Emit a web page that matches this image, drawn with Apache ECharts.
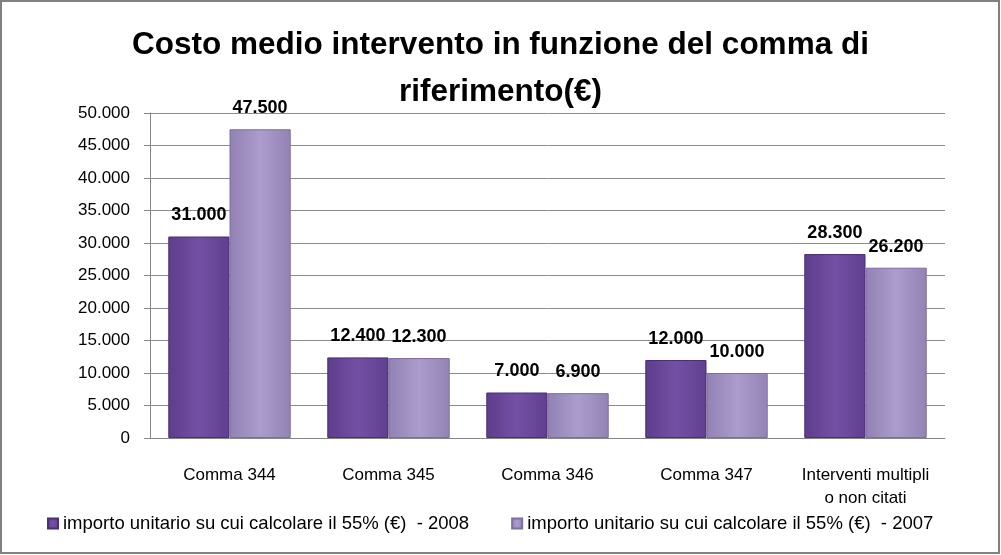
<!DOCTYPE html>
<html><head><meta charset="utf-8">
<script src="https://cdn.jsdelivr.net/npm/echarts@6/dist/echarts.min.js"></script>
<style>html,body{margin:0;padding:0;background:#fff}#c{width:1001px;height:555px}</style>
</head><body><div id="c"></div>
<script>
const categories = ['Comma 344','Comma 345','Comma 346','Comma 347','Interventi multipli\no non citati'];
const seriesNames = ['importo unitario su cui calcolare il 55% (€)  - 2008','importo unitario su cui calcolare il 55% (€)  - 2007'];
const values2008 = [31000, 12400, 7000, 12000, 28300];
const values2007 = [47500, 12300, 6900, 10000, 26200];
const yTicks = [0, 5000, 10000, 15000, 20000, 25000, 30000, 35000, 40000, 45000, 50000];

const FONT = '"Liberation Sans",sans-serif';
function fmt(v){ return String(v).replace(/\B(?=(\d{3})+(?!\d))/g,'.'); }
function grad(c1,c2,c3){ return new echarts.graphic.LinearGradient(0,0,1,0,[{offset:0,color:c1},{offset:0.5,color:c2},{offset:1,color:c3}]); }

const chart = echarts.init(document.getElementById('c'), null, {renderer:'canvas'});
chart.setOption({
  backgroundColor:'#ffffff',
  animation:false,
  textStyle:{fontFamily:FONT},
  title:{
    text:'Costo medio intervento in funzione del comma di\nriferimento(€)',
    left:'center', top:17,
    textStyle:{fontFamily:FONT,fontSize:31.5,fontWeight:'bold',color:'#000',lineHeight:47}
  },
  graphic:[{type:'rect',shape:{x:1,y:1,width:998,height:552},style:{fill:'none',stroke:'#808080',lineWidth:2},silent:true}],
  legend:{
    bottom:17, left:42, itemGap:42, itemWidth:10, itemHeight:10,
    icon:'rect',
    textStyle:{fontFamily:FONT,fontSize:18.5,color:'#000'},
    data:seriesNames
  },
  grid:{left:150,right:56,top:113,bottom:117},
  xAxis:{
    type:'category', data:categories,
    axisLine:{lineStyle:{color:'#868686'}},
    axisTick:{show:false},
    axisLabel:{fontFamily:FONT,fontSize:17,color:'#000',margin:26,lineHeight:23,interval:0}
  },
  yAxis:{
    type:'value', min:0, max:50000, interval:5000,
    axisLine:{show:true,lineStyle:{color:'#868686'}},
    axisTick:{show:true,length:6,lineStyle:{color:'#868686'}},
    splitLine:{lineStyle:{color:'#8c8c8c'}},
    axisLabel:{fontFamily:FONT,fontSize:17,color:'#000',margin:20,formatter:v=>fmt(v)}
  },
  series:[
    {name:seriesNames[0],type:'bar',data:values2008,barGap:'0%',barCategoryGap:'23%',
     itemStyle:{color:grad('#5e3d8c','#7450a4','#5f3f8f'),borderColor:'#4b2f73',borderWidth:1},
     label:{show:true,position:'top',distance:12,fontFamily:FONT,fontSize:18,fontWeight:'bold',color:'#000',formatter:p=>fmt(p.value)}},
    {name:seriesNames[1],type:'bar',data:values2007,
     itemStyle:{color:grad('#9281b3','#ab9ccd','#9383b5'),borderColor:'#7f6ea0',borderWidth:1},
     label:{show:true,position:'top',distance:12,fontFamily:FONT,fontSize:18,fontWeight:'bold',color:'#000',formatter:p=>fmt(p.value)}}
  ]
});
</script></body></html>
